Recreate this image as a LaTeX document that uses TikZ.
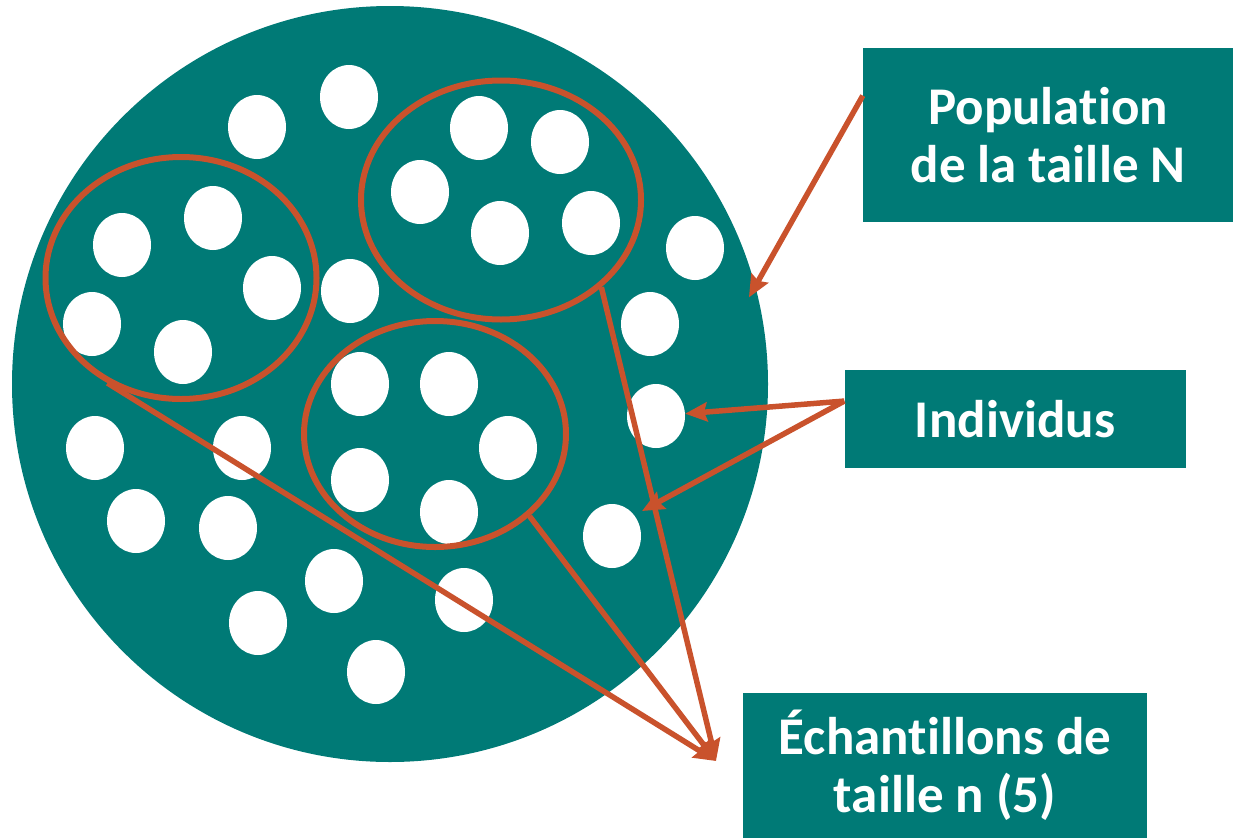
\documentclass[tikz,border=0pt]{standalone}
\usepackage{fontspec}
\setmainfont{Carlito}[Ligatures=NoCommon]
\usetikzlibrary{shapes.geometric,arrows.meta}
\definecolor{popteal}{RGB}{0,122,118}
\definecolor{samporange}{RGB}{201,82,44}
\tikzset{
  indiv/.style={ellipse, fill=white, inner sep=0pt, minimum width=58pt, minimum height=64pt},
  sample/.style={ellipse, draw=samporange, line width=6pt, inner sep=0pt},
  label box/.style={fill=popteal, text=white, inner sep=0pt, align=center,
    font=\bfseries\fontsize{53}{58}\selectfont},
  pointer/.style={draw=samporange, line width=5.5pt, -{Stealth[length=22pt, width=19pt, inset=3pt]}},
}
\begin{document}
\begin{tikzpicture}[x=1pt, y=-1pt]
  \useasboundingbox (0,0) rectangle (1234,838);
  % population
  \node[circle, fill=popteal, inner sep=0pt, minimum size=756pt] (popc) at (390,384) {};
  % individus
  \foreach \x/\y [count=\i] in {257/127, 349/97, 479/128, 560/142, 420/192, 500/233, 591/223,
      213/218, 122/245, 272/288, 92/324, 183/352, 350/291, 695/248, 650/324, 656/416,
      360/384, 449/384, 508/448, 360/480, 449/512, 95/448, 242/448, 136/521, 228/528,
      612/536, 334/581, 464/600, 258/623, 376/672}
    \node[indiv] (d\i) at (\x,\y) {};
  % echantillons
  \node[sample, minimum width=271pt, minimum height=242pt] (sa) at (181,278) {};
  \node[sample, minimum width=280pt, minimum height=239pt] (sb) at (501,200) {};
  \node[sample, minimum width=262pt, minimum height=226pt] (sc) at (435,434) {};

  \node[label box, minimum width=370pt, minimum height=174pt] (pop) at (1048,135) {Population\\de la taille N};
  \node[label box, minimum width=341pt, minimum height=98pt] (ind) at (1015,419) {Individus};
  \node[label box, minimum width=404pt, minimum height=145pt] (ech) at (945,765.5) {Échantillons de\\taille n (5)};

  \coordinate (indtip) at (642,511);
  \coordinate (echtip) at (716,761);

  \draw[pointer, shorten >=-13pt] (pop.168) -- (popc.15);
  \draw[pointer] (ind.174) -- (d16);
  \draw[pointer] (ind.174) -- (indtip);
  \draw[pointer] (sa.235) -- (echtip);
  \draw[pointer] (sb.319) -- (echtip);
  \draw[pointer] (sc.319) -- (echtip);
\end{tikzpicture}
\end{document}
